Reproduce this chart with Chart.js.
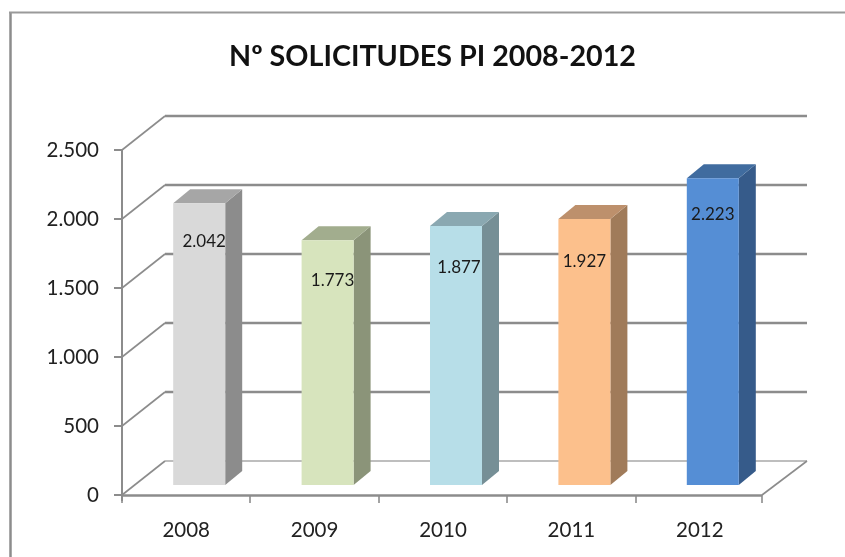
<!DOCTYPE html>
<html>
<head>
<meta charset="utf-8">
<style>html,body{margin:0;padding:0;background:#fff}canvas{display:block}</style>
<script src="https://cdn.jsdelivr.net/npm/chart.js@4"></script>
</head>
<body>
<canvas id="c" width="845" height="557"></canvas>
<script>
const chartTitle = "Nº SOLICITUDES PI 2008-2012";
const categories = ["2008", "2009", "2010", "2011", "2012"];
const values = [2042, 1773, 1877, 1927, 2223];
const frontColors = ["#d9d9d9", "#d7e4bd", "#b7dee8", "#fcc08c", "#558ed5"];
const sideColors = ["#8c8c8c", "#8b9479", "#768f96", "#a07b5a", "#365b8a"];
const topColors = ["#a6a6a6", "#a2ad8e", "#8aa8b1", "#bd906c", "#406c9f"];

const GRID = "#8c8c8c";
const WALL = {dx: 43, dy: 34};
const PLANE = {dx: 13, dy: 10};
const BAR = {dx: 17, dy: 14};
const LABEL_DX = [5, 5, 3, 0, 0];
const LABEL_DY = [38, 40, 42, 42, 36];
const fmt = v => String(v).replace(/\B(?=(\d{3})+$)/g, ".");

function line(ctx, x1, y1, x2, y2, w, c) {
  ctx.beginPath(); ctx.moveTo(x1, y1); ctx.lineTo(x2, y2);
  ctx.lineWidth = w; ctx.strokeStyle = c; ctx.stroke();
}
function poly(ctx, pts, c) {
  ctx.beginPath();
  pts.forEach((p, i) => i ? ctx.lineTo(p[0], p[1]) : ctx.moveTo(p[0], p[1]));
  ctx.closePath(); ctx.fillStyle = c; ctx.fill();
}

const scene = {
  id: "scene",
  afterLayout(chart) {
    chart.titleBlock.left = 20;
    chart.titleBlock.right = 845;
  },
  beforeDraw(chart) {
    const ctx = chart.ctx;
    ctx.save();
    line(ctx, 10.5, 12, 10.5, 557, 2.5, "#8c8c8c");
    line(ctx, 9, 12.5, 845, 12.5, 2, "#9a9a9a");
    ctx.restore();
  },
  beforeDatasetsDraw(chart) {
    const ctx = chart.ctx, {left, right} = chart.chartArea, y = chart.scales.y, x = chart.scales.x;
    const axisRight = right - 2;
    ctx.save();
    y.ticks.forEach(t => {
      const py = Math.round(y.getPixelForValue(t.value));
      if (t.value === 0) {
        line(ctx, left + WALL.dx, py - WALL.dy, axisRight + WALL.dx + 2, py - WALL.dy, 1.5, "#a8a8a8");
        line(ctx, axisRight, py, axisRight + WALL.dx + 2, py - WALL.dy, 1.6, GRID);
      } else {
        line(ctx, left + WALL.dx, py - WALL.dy, axisRight + WALL.dx + 2, py - WALL.dy, 2.6, GRID);
      }
      line(ctx, left, py, left + WALL.dx, py - WALL.dy, 1.6, GRID);
      line(ctx, left - 8, py, left, py, 2, GRID);
    });
    const y0 = y.getPixelForValue(0), yTop = y.getPixelForValue(y.max);
    line(ctx, left, yTop, left, y0 + 6, 2, GRID);
    line(ctx, left - 1, y0 + 0.5, axisRight, y0 + 0.5, 2.4, GRID);
    categories.forEach((_, i) => {
      const tx = Math.round(i === 0 ? left : x.getPixelForValue(i) - (x.getPixelForValue(1) - x.getPixelForValue(0)) / 2);
      line(ctx, tx, y0, tx, y0 + 8, 1.6, GRID);
    });
    line(ctx, axisRight, y0, axisRight, y0 + 8, 1.6, GRID);
    ctx.translate(PLANE.dx, -PLANE.dy);
    chart.getDatasetMeta(0).data.forEach((b, i) => {
      const l = b.x - b.width / 2, r = b.x + b.width / 2;
      poly(ctx, [[r, b.y], [r + BAR.dx, b.y - BAR.dy], [r + BAR.dx, b.base - BAR.dy], [r, b.base]], sideColors[i]);
      poly(ctx, [[l, b.y], [l + BAR.dx, b.y - BAR.dy], [r + BAR.dx, b.y - BAR.dy], [r, b.y]], topColors[i]);
    });
    // keep the translation for the library's own bars
  },
  afterDatasetsDraw(chart) {
    const ctx = chart.ctx;
    ctx.font = '17px Lato';
    ctx.fillStyle = "#1a1a1a";
    ctx.textAlign = "center";
    ctx.textBaseline = "middle";
    chart.getDatasetMeta(0).data.forEach((b, i) => {
      ctx.fillText(fmt(values[i]), b.x + LABEL_DX[i], b.y + LABEL_DY[i]);
    });
    ctx.restore();
  }
};

new Chart(document.getElementById("c"), {
  type: "bar",
  data: {
    labels: categories,
    datasets: [{
      data: values,
      backgroundColor: frontColors,
      borderWidth: 0,
      barPercentage: 0.405,
      categoryPercentage: 1
    }]
  },
  options: {
    responsive: false,
    animation: false,
    layout: {padding: {left: 0, top: 0, right: 81, bottom: 0}},
    plugins: {
      legend: {display: false},
      tooltip: {enabled: false},
      title: {
        display: true,
        text: chartTitle,
        color: "#111",
        font: {family: "Lato", size: 28.7, weight: "bold"},
        padding: {top: 40, bottom: 75.6}
      }
    },
    scales: {
      x: {
        grid: {display: false},
        border: {display: false},
        afterFit: s => { s.height = 62; },
        ticks: {color: "#222", font: {family: "Lato", size: 20.5}, padding: 15, maxRotation: 0}
      },
      y: {
        min: 0,
        max: 2500,
        grid: {display: false},
        border: {display: false},
        afterFit: s => { s.width = 122; },
        ticks: {
          stepSize: 500,
          color: "#222",
          font: {family: "Lato", size: 20.5},
          padding: 15,
          callback: v => fmt(v)
        }
      }
    }
  },
  plugins: [scene]
});
</script>
</body>
</html>
